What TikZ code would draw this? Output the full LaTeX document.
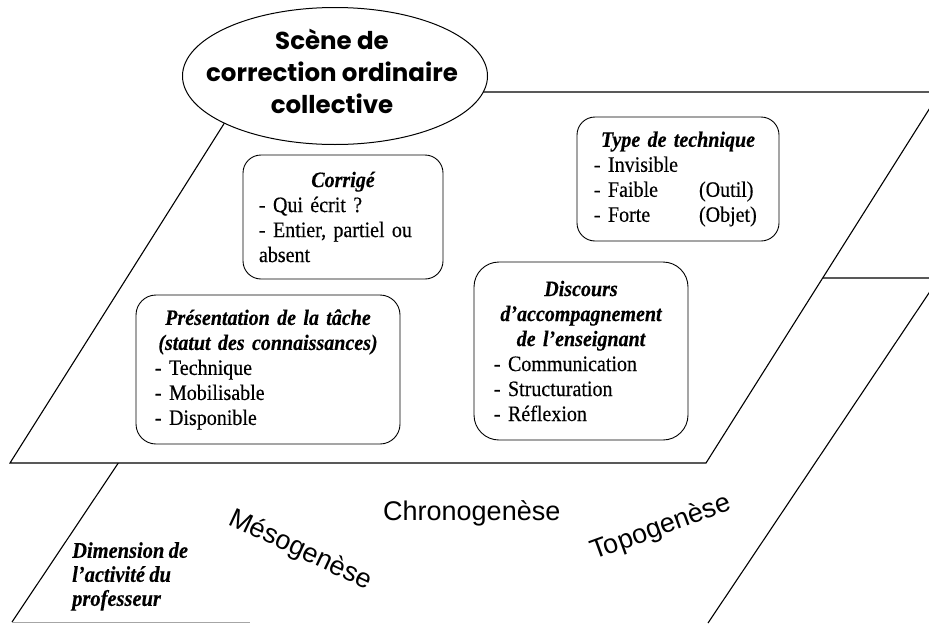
\documentclass[tikz,border=0pt]{standalone}
\usepackage{fontspec}
\setmainfont{Liberation Serif}[FakeStretch=0.91, FakeBold=0.3, WordSpace=0.85]
\newfontfamily\arialfont{Liberation Sans}
\newfontfamily\comicfont{Poppins}
\usetikzlibrary{shapes.geometric}
\tikzset{
  plane/.style={line width=1.1pt, line join=miter},
  boxnode/.style={draw, fill=white, rounded corners=18pt, line width=0.9pt,
    align=left, inner ysep=0pt, font=\fontsize{22}{25}\selectfont},
  genlabel/.style={font=\arialfont\fontsize{27}{30}\selectfont, inner sep=0pt, anchor=base west},
}
\begin{document}
\begin{tikzpicture}[x=1pt, y=-1pt]
\useasboundingbox (0,0) rectangle (929,624);
\clip (0,0) rectangle (929,624);
\fill[white] (0,0) rectangle (929,624);
% back plane
\coordinate (p2a) at (242,278);
\coordinate (p2b) at (939,278);
\coordinate (p2c) at (708,623);
\coordinate (p2d) at (12,622);
\coordinate (p2e) at (250,622);
\draw[plane] (p2d) -- (p2a) -- (p2b) -- (p2c);
\draw[gray!70, line width=0.8pt] (p2d) -- (p2e);
% front plane
\coordinate (p1a) at (244,92);
\coordinate (p1b) at (940,92);
\coordinate (p1c) at (706,463);
\coordinate (p1d) at (10,463);
\filldraw[plane, fill=white] (p1a) -- (p1b) -- (p1c) -- (p1d) -- cycle;
% ellipse
\node[ellipse, draw, fill=white, line width=1pt, minimum width=305pt, minimum height=137pt] (scene) at (335,76) {};
\node[font=\comicfont\bfseries\fontsize{24.5}{32}\selectfont, align=center, inner sep=0pt] (scenetext) at (332,71)
  {Scène de\\correction ordinaire\\collective};
% boxes
\node[boxnode, text width=168pt, inner xsep=16pt, minimum height=124pt] (corr) at (343,217)
  {\makebox[168pt]{\bfseries\itshape Corrigé}\\- Qui écrit ?\\- Entier, partiel ou\\absent};
\node[boxnode, text width=168pt, inner xsep=17pt, minimum height=124pt] (type) at (678,179)
  {\makebox[168pt]{\bfseries\itshape Type de technique}\\- Invisible\\\makebox[105pt][l]{- Faible}(Outil)\\\makebox[105pt][l]{- Forte}(Objet)};
\node[boxnode, rounded corners=20pt, text width=226pt, inner xsep=19pt, minimum height=149pt] (pres) at (268,369.5)
  {\makebox[226pt]{\bfseries\itshape Présentation de la tâche}\\\makebox[226pt]{\bfseries\itshape (statut des connaissances)}\\- Technique\\- Mobilisable\\- Disponible};
\node[boxnode, rounded corners=25pt, text width=174pt, inner xsep=20pt, minimum height=178pt] (disc) at (581,351)
  {\makebox[174pt]{\bfseries\itshape Discours}\\\makebox[174pt]{\bfseries\itshape d’accompagnement}\\\makebox[174pt]{\bfseries\itshape de l’enseignant}\\- Communication\\- Structuration\\- Réflexion};
% bottom labels
\node[genlabel] (chrono) at (383,520) {Chronogenèse};
\node[genlabel, rotate=-25] (meso) at (227,524) {Mésogenèse};
\node[genlabel, rotate=20] (topo) at (594,560) {Topogenèse};
\node[font=\bfseries\itshape\fontsize{22.5}{24}\selectfont, align=left, inner sep=0pt, anchor=north west] (dim) at (72,542)
  {Dimension de\\l’activité du\\professeur};
\end{tikzpicture}
\end{document}
